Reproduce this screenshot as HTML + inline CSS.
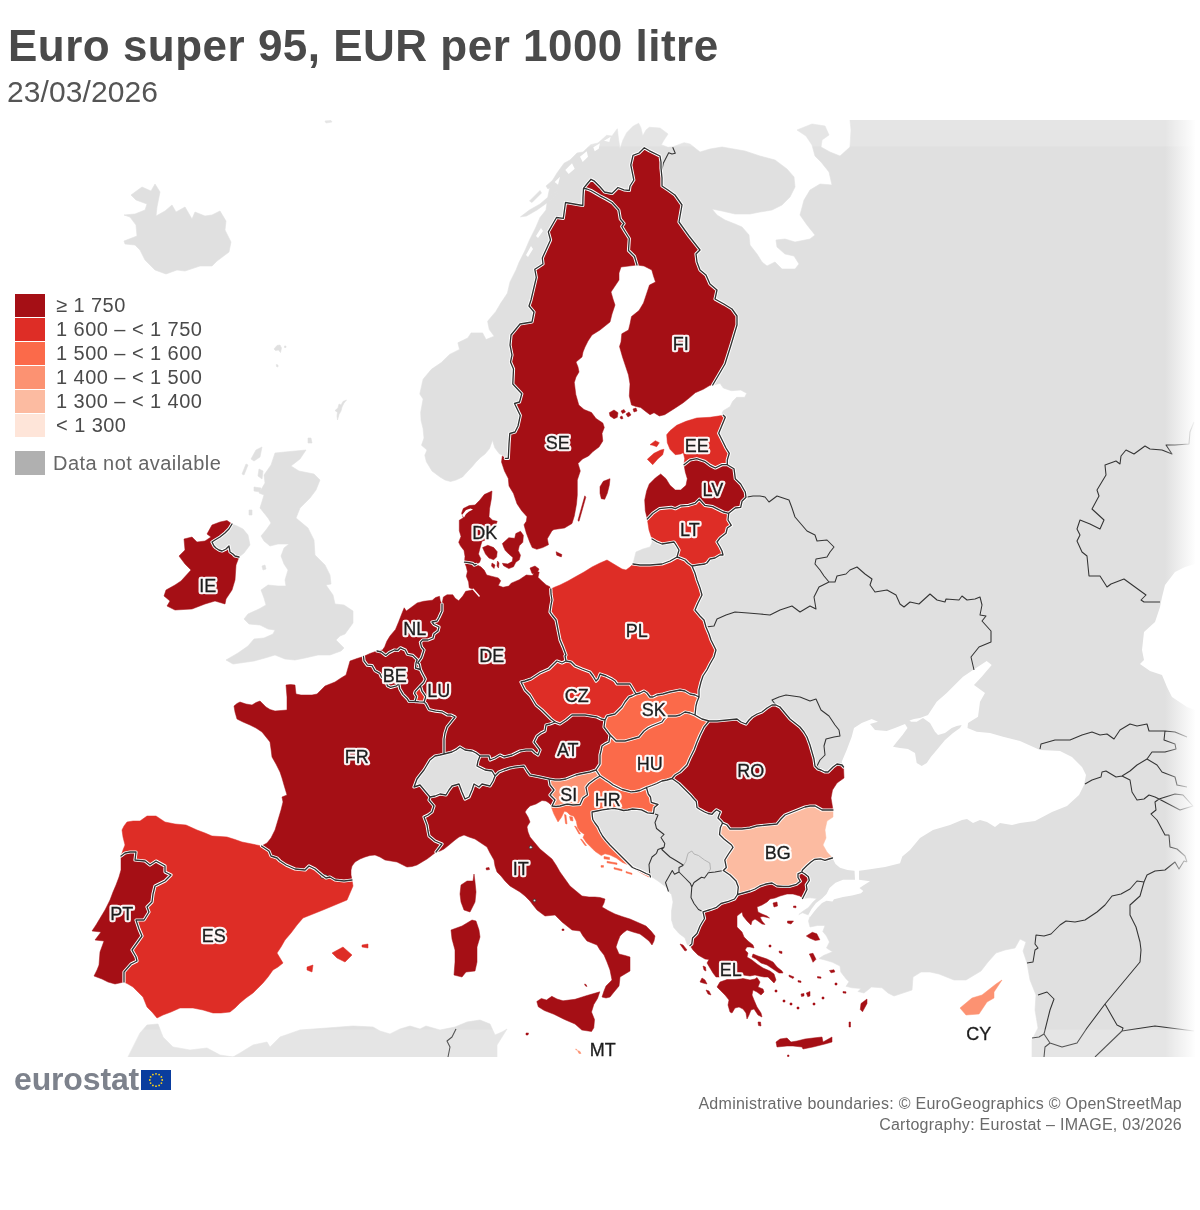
<!DOCTYPE html>
<html lang="en"><head><meta charset="utf-8"><title>Euro super 95, EUR per 1000 litre</title>
<style>
html,body{margin:0;padding:0;background:#fff}
body{width:1200px;height:1210px;position:relative;overflow:hidden;font-family:"Liberation Sans",Arial,sans-serif}
h1,.sub,.lt,.logo,.cr{opacity:.999;will-change:opacity}
h1{position:absolute;left:8px;top:22px;margin:0;font-size:44px;line-height:48px;font-weight:bold;color:#4a4a4a;letter-spacing:0.49px;white-space:nowrap}
.sub{position:absolute;left:7px;top:76px;font-size:30px;line-height:32px;color:#555;letter-spacing:0.08px;white-space:nowrap}
.sw{position:absolute;left:15px;width:30px;height:23px}
.lt{position:absolute;left:56px;font-size:20px;line-height:23px;color:#4a4a4a;letter-spacing:0.45px;white-space:nowrap}
.logo{position:absolute;left:14px;top:1062px;font-size:32px;line-height:34px;font-weight:bold;color:#7d828c;letter-spacing:-0.15px}
.flag{position:absolute;left:141px;top:1070px;width:30px;height:20px;background:#0a3d9e}
.cr{position:absolute;right:18px;font-size:16px;line-height:18px;color:#6a6a6a;letter-spacing:0.27px;white-space:nowrap;text-align:right}
</style></head><body>
<h1>Euro super 95, EUR per 1000 litre</h1>
<div class="sub">23/03/2026</div>
<svg width="1200" height="937" viewBox="0 120 1200 937" style="position:absolute;left:0;top:120px;display:block"><defs><linearGradient id="fr" x1="0" x2="1" y1="0" y2="0"><stop offset="0" stop-color="#fff" stop-opacity="0"/><stop offset="1" stop-color="#fff" stop-opacity="1"/></linearGradient><filter id="hb" x="-5%" y="-5%" width="110%" height="110%"><feGaussianBlur stdDeviation="0.45"/></filter><filter id="nop" x="-5%" y="-5%" width="110%" height="110%"><feOffset dx="0" dy="0"/></filter></defs><rect x="0" y="120" width="1200" height="937" fill="#fff"/><path fill="#e0e0e0" stroke="#e0e0e0" stroke-width="0.6" stroke-linejoin="round" d="M505.3 458.3L504.5 456L499.3 453.8L494.8 447.8L492.5 440.3L489.5 448.5L485 454L480.5 457.5L476 462L472.3 466.5L467 472L462.5 477L456 480L450.5 481.5L445 480L440 477L432 471L426.4 461.8L424.8 455.2L427 450L421.5 445.3L424 438L423.1 428.8L421 420L420.7 412.2L423.1 399L419.8 394L423.1 379.2L431.4 369.3L441.3 362.6L449.6 354.4L459.5 349.4L457.9 342.8L467.8 337.9L471.1 332.9L482.6 332.9L486 339.5L494.2 336.2L489.3 329.6L487.6 321.3L495.9 311.4L500.8 303.1L507.4 293.2L510 282L516 270L519 262.5L525 250.5L529.5 240L535.5 228L540 217.5L546 210L548 196L550.7 183.3L557 173L564 163.3L570 160L577 153L583 152L590.7 144.7L598 143L606.7 135.3L612 136L617.3 128.7L618.5 139L620 148.7L623 140L626.7 132.7L633.3 126L638.7 123.3L641 128L642.7 136L646 130L649.3 127.3L660 128L668 134L664 140L661.3 144.7L668 147.3L673.3 146.7L684 142.7L690 144L700 152L710 149L722 147L745 151L760 156L775 160L787 169L794 177L795 187L790 197L782 205L772 210L760 212L750 214L735 214L722 211L712 209L717 215L725 220L735 224L742 227L749 235L750 245L757 254L762 262L767 266L775 262L782 269L795 269L799 264L794 256L785 254L777 247L776 240L785 239L795 242L810 239L815 235L807 225L800 215L804 200L810 190L820 184L832 185L829 172L821 162L815 156L812 145L806 136L797 130L812 124L825 126L829 135L822 140L821 147L830 152L840 156L850 147L851 130L850 120L1200 120L1200 1057L1032 1057L1032 1040L1038 1028L1035 1010L1036 995L1030 980L1027 963L1023 951L1026 942L1020 939L1015 948L1005 950L996 953L988 962L981 971L966 980L954 980L939 974L930 972L921 972L913 977L912 990L903 993L894 996L888 993L882 987.8L871.5 987L864 993L858 991.5L861 988.5L852 987.8L846 986.3L849 981.8L846 978.8L840.8 972L840 966L832.5 962.3L825 960L819 958.5L823.5 955.5L832.5 951.8L826.5 948L829.5 942L826.5 936L822.8 931.5L825 925.5L817.5 925.5L810 927L808.5 921L810 916.5L808.5 915L802.5 912.8L798.8 914.5L802.5 911.5L808.5 907.5L813 902L816.8 898.5L810 897.8L802.5 898.5L790 880L760 850L740 790L690 745L665 705L650 640L645 580L633 564L634 560L636 552L643 549L650 547L652 543L652 539L665 530L700 525L712 490L712 440L723.3 415.3L722 413.3L723.3 410.7L730 406.7L732.7 401.3L736.7 397.3L744.7 397.3L746.7 393.3L740.7 390L731.3 390.7L723.3 388L720 383.3L714.7 384.7L712.7 385L700 370L670 300L640 235L600 215L565 280L545 380L520 440ZM690 945.5L687.3 944.8L685 938L679 933.5L673.8 927.5L671.5 920L671.5 911L673 902L671.5 894.5L668.5 891.5L667.8 888.5L664 885.5L658 881L653.5 878L650.5 877L649.8 875L646 873.5L643 872L640 870.5L636 869L632.5 867.5L629.5 864.5L626.5 861.5L623 858L619 854L614.5 849.5L610 845L606 840.5L602.5 836L600 831.5L598 827L595 823L592.8 819.5L592.3 816L592 812L597 811L602.5 809.8L608 809L613 808.3L618 809L623.5 810.5L628 810L632.5 809L637 809.3L641.5 809.8L647.5 812.8L653.5 813.5L654.3 807.5L658 804.5L651.3 802.3L650.5 797L648.3 794L646.5 787.5L652 785.5L657 783.5L662 781L667 780L672 778.5L679 783.5L682 786.5L685 789.5L688 792.5L691 795.5L693.5 798.5L696.3 801.5L697 807.5L700 809.5L704.5 812L708 813.5L712 814.3L714 812L716.5 809.8L720.3 812L719 815L718 818L721.8 821.8L722.5 823L720.3 827.8L719.5 834.5L724 839L731.5 845L733 847.3L728.5 854L724.8 860L726.3 867.5L723.3 870.5L730 875L736 881L738.3 887L737.5 894.5L734.5 899L728.5 901.3L721 903.5L716.5 907.3L710.5 909.5L703 911.8L704.5 918.5L702 922.5L700 926L697 933.5L692.5 938L691.8 944ZM480 756L476 753L472 751L465 750L460 747L456 750L452 752L448 753L444 754L440 755L435 756L430 760L427 765L424 770L420 775L417 779L414 787L417 786L420 785L425 791L430 797L435 796L440 794L446 795L449 790L452 786L459 784L462 792L465 799L469 797L472 790L474 784L479 787L482 784L490 786L493 781L495 776L492 771L485 770L481 768L477 766L478 761ZM275 453L290 451.5L306 450L300 459L291 466L299 471L314 474L320 480L316 490L310 498L305 503L300 508L296 518L308 528L314 540L315 555L325 565L330 575L331 584L326 585L333 595L335 604L344 605L353 611L353 623L345 634L340 636L336 640L344 648L341 651L330 655L318 655L305 658L295 660L285 659L275 655L265 658L254 661L240 663L233 664L226 660L238 653L248 646L254 639L264 638L273 634L275 630L268 629L260 625L249 624L244 619L248 614L259 609L266 605L264 598L261 590L268 585L278 586L286 586L285 580L288 570L284 564L281 556L284 548L289 544L278 544L270 546L264 541L261 536L266 530L271 523L268 518L264 513L260 508L264 495L259 493L265 483L264 475L271 465ZM232 524L229 529L225 533L220 537L215 540L212 542L214 546L216 548L219 550L222 551L226 549L229 546L229.5 549L230 552L233 554L235 556L239 557L244 553L250 545L248 535L243 529L237 526ZM131 195L142 187L151 191L155 184L160 192L157 207L156 216L165 211L172 205L176 212L185 207L192 219L195 212L205 216L212 215L220 211L226 221L225 230L231 242L229 252L217 261L212 266L200 266L185 271L177 270L166 274L155 270L145 260L140 250L135 245L125 244L124 241L137 236L136 225L130 217L124 215L135 214L145 210L147 204L136 200ZM256 450L262 447L260 457L254 461L251 459ZM246 464L248 465L244 475L242 474ZM259 469L263 471L262 479L258 476ZM254 487L261 488L260 492L254 491ZM249 510L252 510L252 515L249 515ZM308 438L311 438L312 443L308 443ZM335 410.5L338 408L339 404L341 405L343 401.5L346.5 400L344 403L342 407L341 411L339 414.5L337.5 420L337 416L337.5 412.5ZM262 566L265 565L266 569L263 570ZM325 121L331 120.5L332 122L326 123ZM274 349L277 345.5L280 345L281.5 348L280.5 352.5L278.5 350L275.5 350.5ZM284.5 346L286 346L286 347.5L284.5 347.5ZM276.3 364.5L278 365L278 367L276.5 366.5ZM128 1057L140 1033L147 1025L158 1024L163 1037L173 1047L190 1050L207 1048L220 1055L233 1057ZM233 1057L240 1053L253 1045L267 1042L270 1047L280 1037L300 1030L327 1028L353 1026L373 1027L380 1031L390 1034L400 1029L410 1026L420 1029L426 1026L440 1030L455 1027L467 1022L480 1020L490 1024L495 1035L502 1032L507 1029L502 1037L497 1045L497 1057ZM520.5 216.8L529.5 210L540 204L550.5 195L558 190.5L556.5 195L547.5 202.5L537 210L526.5 216ZM529.5 201L540 190.5L541.5 193L532 202.5ZM546 186L553 180L555 183L548 189Z"/><path fill="#fff" d="M843.5 767L841.7 761.7L846.7 750L851.7 736.7L854 728L861.7 723L871.7 719L878 721.7L870 724L875 730L886.7 731L895 728L905 724L908 721L914 719L920 718L928 715L936.7 701.7L946.7 693L956.7 683L963 676.7L973 670L986.7 661L991.7 665L981.7 676.7L974 685L985 693L980 701.7L978 716.7L968 723L967.5 728L976.7 731.7L990 733L1003 736.7L1020 741L1040 750L1060 751L1072 757L1082 767L1086 775L1084 785L1079 795L1067 806L1052 812L1035 821L1020 823L1012 825L1000 823L995 827L987 822L980 820L973 823L967 819L962 820L950 825L933 830L920 838L910 850L902.3 856.5L900 863.3L885 867L870 869.3L859.5 870.8L854.3 870.8L847.5 870L840 867.8L835.5 864L832.5 858L815 850L815 800ZM1200 560L1195 564L1185 567L1175 572L1165 585L1162 597L1160 607L1155 622L1144 632L1142 650L1144 660L1140 664L1150 671L1162 675L1167 687L1172 697L1187 707L1195 710L1200 712ZM854.5 870L859 870L859 879.8L870 881.3L864 885L859.5 888L863.3 891L861 893.3L852 895.5L843 897L834 899.3L832.5 901.5L826.5 900.8L822 903L817.5 907.5L813.8 912L810 917L808 915.5L811.5 909L816 903L822 898.5L826.5 894L829.5 888L835.5 882.8L843 879.8L855 879.8ZM554.7 182L560 176.7L558 184.7ZM565.3 170L572 163.3L574.7 168.7L568.7 174ZM580 156.7L586.7 151.3L588 156.7L582.7 162ZM593.3 147.3L600 143.3L598.7 148.7L594.7 151.3ZM604 140.7L610.7 136.7L609.3 142ZM536 236L541 228L543 231L538 238ZM526 255L531 246L533 249L528 257Z"/><path fill="#e0e0e0" d="M904 720L905 724L907.5 728L902.5 735L897.5 741L893 746.7L900 748L908 749L915 753L916.7 763L921.7 766L926.7 763L931 756.7L936.7 750L945 740L953 733L960 728L961.7 725L956.7 726L951.7 728L945 733L938 735L935 731.7L930 723L923 718L916.7 721.7L911 721.7L908 719Z"/><path fill="none" stroke="#a8a8a8" stroke-width="0.8" d="M683.5 865.3L685.8 861.5L688 853.3L691.8 851L694 854L698.5 855.5L704.5 860L709.8 863L710.5 869L708.3 872.8"/><path fill="none" stroke="#333" stroke-width="1.05" stroke-linejoin="round" d="M661 168L662 169.3L663.3 163.3L668.7 152.7L672 154L675.3 153.3L672.7 147.3M746 497.3L753 496L760 496L765 497L769 502L777 496L789 500L792 508L795 517L801 524L807 531L815 535L817 541L827 540L834 547L830 552L827 557L816 559L815 564L820 570L824 576L829 582M706 627L714 626L717 619L726 615L735 612L748 613L760 614L770 615L780 610L792 606L800 612L810 606L816 609L814 597L819 587L829 582M829 582L835 582L837 576L846 574L850 570L857 567L865 574L872 579L870 585L875 592L887 590L896 595L900 604L904 607L910 602L919 604L930 594L937 600L945 602L946 599L959 600L962 596L967 600L975 599L980 597L982 605L980 615L986 616L982 621L991 631L991 642L979 647L971 657L974 670M780 707L775 704L772 700L779 697L786 695L800 697L810 701L816 699L821 710L829 716L835 725L839 730L840 736L834 737L826 739L824 746L825 755L820 760L817 766L821 770M1194 422L1190 432L1189 444L1175 445L1166 445L1172 454L1162 450L1150 449L1145 446L1134 454L1126 450L1121 456L1120 464L1116 461L1105 465L1106 475L1097 490L1099 496L1092 509L1104 520L1100 529L1090 524L1080 520L1077 529L1080 535L1077 541L1082 552L1087 556L1089 576L1100 576L1107 587L1111 584L1124 579L1146 595L1141 600L1144 602L1160 602M1040 749L1041 744L1055 740L1070 740L1082 735L1092 732L1100 735L1107 734L1114 739L1120 730L1130 724L1137 726L1147 724L1149 731L1165 731L1175 732L1187 737M1165 731L1164 740L1175 744L1176 749L1165 752L1152 752L1147 759M1147 759L1137 765L1130 771L1122 776M1122 776L1116 777L1106 771L1102 772L1101 777L1092 780L1085 784M1122 776L1130 780L1132 792L1137 800L1144 799L1149 795L1155 797L1159 799M1147 759L1157 765L1162 772L1175 777L1177 785L1187 787M1159 799L1175 794L1183 795L1193 806L1180 810L1159 799M1159 799L1155 802L1156 810L1151 814L1157 820L1165 835L1169 835L1170 847L1177 849L1185 856L1187 862M1187 862L1184 861L1179 869L1175 862L1170 866L1165 870L1155 871L1147 875L1144 882M1144 882L1137 881L1130 889L1121 894L1112 896L1105 905L1097 912L1085 920L1075 922L1066 921L1060 925L1051 934L1044 936L1036 935L1035 944L1038 948L1035 950L1033 962L1027 963M1144 882L1140 896L1130 905L1130 915L1136 927L1140 942L1141 950L1140 962L1105 1004M1105 1004L1087 1028L1077 1043L1062 1047L1050 1043M1050 1043L1044 1034L1050 1010L1054 999L1047 992L1038 995M1032 1038L1039 1037L1044 1034M1050 1043L1045 1047L1044 1057M1105 1004L1117 1025L1123 1028L1122 1031M1122 1031L1095 1057M1122 1031L1155 1026L1194 1031M456 1029L452 1037L447 1041L450 1047L448 1057M653.5 813.5L658 815L655 822.5L656.5 828.5L664 834.5L661 837.5L664.8 843.5L664 847.3M664 847.3L658 849.5L656.5 853.3L652 857L649 864.5L649.8 875M664 847.3L661.8 849.5L670 857L677.5 861.5L683.5 865.3M683.5 865.3L679 867.5L679 872L674.5 874.3L672.3 870.5L665.5 882.5L668.5 891.5M708.3 872.8L704.5 878L701.5 877.3L694 882.5L691.8 887M679 872L685 878L690.3 883.3L691.8 887M708.3 872.8L715 872L723.3 870.5M703 911.8L698.5 909.5L694 903.5L691 897.5L691.8 887"/><rect x="0" y="120" width="1200" height="26.5" fill="#fff" fill-opacity="0.16"/><rect x="0" y="1029.5" width="1200" height="27.5" fill="#fff" fill-opacity="0.16"/><path fill="#a50f15" stroke="#a50f15" stroke-width="0.5" stroke-linejoin="round" d="M583.5 188.3L587 184L591 179.3L594 180.8L600 186.8L604.5 192L612 193.5L618 187.5L624 189.8L629.3 190.5L630 186L633.8 180L632.3 172.5L630.8 165L633 155.3L639 153L644.3 147.8L649.5 150.8L660 156L661 162L661 168L662 178L662 186L668 190L675 195L682 205L679 222L689 236L700 250L696 254L697 262L700 270L706 275L710 284L717 290L715 299L724 304L732 309L737 316L737 325L731 345L725 364L718 376L712.7 385L710 385.3L703.3 389.3L695.3 392.7L690 397.3L683.3 402.7L675.3 408L664.7 414.7L659.3 416L654 412.7L650 414.7L644.7 410.7L640.7 407.5L636 406.5L631.5 405L629.3 396L630 384L628.5 375L625.5 366L622.5 357L619.5 346.5L621 342L621.8 333.8L628.5 330L630 324L631.5 316.5L639 310.5L643.5 303L646.5 294L649.5 285L655.5 282L653.5 276L651.8 270L644 266L637 265L634.5 256.5L628.5 250.5L629.3 238.5L625.5 232.5L621.8 226.5L624 223.5L620.3 219L618.8 210L612 202.5L606 199L600 195.8L591 190.5L587 189ZM609.3 412.7L614 410L618 412.7L617.3 417.3L614 418.7L610 416ZM621 411L624 409.5L625.5 412L622.5 413.5ZM626 414L629 412L631 415L628 417ZM633 409L636 408L637 411L634 412ZM620 417L622 416L623 418.5L621 419Z"/><path fill="#a50f15" stroke="#a50f15" stroke-width="0.5" stroke-linejoin="round" d="M583.5 188.3L587 189L591 190.5L600 195.8L606 199L612 202.5L618.8 210L620.3 219L624 223.5L621.8 226.5L625.5 232.5L629.3 238.5L628.5 250.5L634.5 256.5L637 265L629 266L621 267L619 273L619 280L615 286L611 292L613 299L615 305L612 314L610 322L605 326L600 330L592 335L588 341L585 347L583 352L582 357L576 362L578 367L579 372L576 377L574.3 382.5L575.8 394.5L578.8 405L584 409.5L591.5 412.5L596 418.5L602.8 423L604.3 427.5L602 433.5L602.8 441L599 447L593 451.5L588.5 456L582.5 459L578 463.5L580.3 471L577.3 480L577.3 495L576.5 504L574.3 516L572 523.5L564.5 528L554 529.5L552 530.7L547.3 538.8L548.5 544.7L542.7 547.6L536.8 549.3L532.2 547.6L529.8 542.3L526.3 533L524 524.8L526.3 521.3L527 516.7L521.7 510.8L517 503.8L513.5 493.5L509 486L508.3 478.5L504.5 471L501.5 462L502.3 456L505.3 458.3L508.3 458.3L509 444L509.8 433.5L515 432L518 426L520.3 415.5L514.5 403.5L519.5 402L521.8 393.8L512.8 384L513.5 369L510.5 362L512 355L510 345L511 335L520 324L532 322L534 312L529 306L531 300L536.3 277.5L534.8 269.3L543 264L542.3 258L550.5 240L548.3 231.8L556.5 217.5L563.3 218.3L565.5 202.5L582.8 205.5L583 197ZM600 486.7L603.3 481.3L610 478.7L609.3 485.3L607.3 493.3L604.7 499.3L601.3 498.7L600 493.3ZM584.8 495.8L585.8 497.3L579 521.3L577.9 520.5Z"/><path fill="#de2d26" stroke="#de2d26" stroke-width="0.5" stroke-linejoin="round" d="M684 464.7L684.7 458.7L683.3 452.7L680.7 454L675.3 454.7L670 449.3L667.3 442.7L666.7 434.7L670 430.7L676.7 425.3L686 421.3L696.7 418L710 417.3L723.3 415.3L725.3 417.3L722 425.3L718.7 433.3L722.7 441.3L726 448L729.3 453.3L727.3 460L727.3 464.7L722 464.7L715.3 468L710 465.3L704.7 461.3L696.7 458.7L690 460ZM647.3 459.3L654 453.3L660.7 450L664 449.3L662.7 454.7L658 458.7L652.7 464.7ZM650 444.7L655.3 440.7L659.3 442.7L656.7 446.7L652.7 445.3Z"/><path fill="#a50f15" stroke="#a50f15" stroke-width="0.5" stroke-linejoin="round" d="M684 464.7L690 460L696.7 458.7L704.7 461.3L710 465.3L715.3 468L722 464.7L727.3 464.7L734 468.7L735.3 478.7L740.7 484L745.3 492L746 497.3L742 501.3L740.7 507.3L735.3 508L728.7 513.3L723.3 512L712.7 506.7L704.7 505.3L699.3 499.3L695.3 503.3L688.7 505.3L680.7 506L675.3 508.7L671.3 507.3L659.3 508.7L652.7 513.3L647.3 519L645.3 510.7L644.7 500L646.7 490.7L649.3 484L655.3 478L660.7 474L666 478.7L670 485.3L675.3 490L680.7 490L686 485.3L687.3 478.7L685.3 472Z"/><path fill="#de2d26" stroke="#de2d26" stroke-width="0.5" stroke-linejoin="round" d="M647.3 519L652.7 513.3L659.3 508.7L671.3 507.3L675.3 508.7L680.7 506L688.7 505.3L695.3 503.3L699.3 499.3L704.7 505.3L712.7 506.7L723.3 512L728.7 513.3L728 520L731.3 525.3L727.3 528L726 533.3L720 538L717 542L720 547L722 551L723 555L720 555L715 558L710 559L707 563L705 564L698 565L692 566L688 563L685 560L680 558L677 557L679 550L676 545L674 542L668 543L662 544L657 542L652 539L649 530Z"/><path fill="#de2d26" stroke="#de2d26" stroke-width="0.5" stroke-linejoin="round" d="M550.8 589L555 587L560 585L568 581L575 577L584 572L592 567L600 563L607 560L612 563L617 566L622 569L626 570L630 567L633 564L640 565L650 565L662 564L670 561L677 557L680 558L685 560L688 563L692 566L695 573L697 580L700 588L702 595L698 603L695 610L700 616L704 620L706 627L709 634L711 640L716 650L714 657L710 664L707 670L703 676L701 682L699 690L699 697L695 695L690 694L685 691L680 690L675 691L670 692L663 694L657 695L653 697L650 697L647 693L644 691L640 693L636 694L633 689L630 684L623 684L617 684L615 681L612 679L606 676L600 674L598 679L596 681L593 676L590 672L582 669L575 666L571 662L566 661L565 656L566 655L563 647L560 640L558 630L556 620L552 615L550 612L551 605L552 600L551 594Z"/><path fill="#a50f15" stroke="#a50f15" stroke-width="0.5" stroke-linejoin="round" d="M442 604L443.4 597L447 594.8L452.8 594.8L455.2 598.3L458.7 600.7L462.8 596L465.7 591.3L470 590.5L473.8 589.6L469.2 587.8L468.6 582L466.3 576.2L467.4 571.5L466.3 566.8L464.5 562.2L468 562.5L472.7 563.3L474.4 565.1L476.2 564.5L480.8 566.8L484.3 570.3L486.7 575L491.3 576.2L498.3 577.9L500.7 580.8L498.3 585.5L503 587.3L508.8 586.1L511.2 583.2L519.3 579.7L526.3 575L532.2 575.6L535.7 571.5L539.2 572.1L538 577.3L541.5 580.8L546.2 584.9L549.7 586.7L550.8 589L551 594L552 600L551 605L550 612L552 615L556 620L558 630L560 640L563 647L566 655L565 656L566 661L562 663L557 661L553 665L549 669L540 673L531 679L525 681L521 682L523 686L525 690L530 695L533 700L536 705L542 710L547 715L551 719L555 722L550 724L546 725L545 731L541 733L537 736L534 742L537 746L540 750L538 755L535 753L532 750L526 750L520 751L516 753L512 755L508 756L504 757L500 755L495 758L490 760L489 756L484 756L480 756L476 753L472 751L465 750L460 747L456 750L452 752L448 753L444 754L444 746L444 739L445 733L447 727L451 722L455 717L451 715L447.5 715L442 711.8L435.6 711.2L429 709.6L425.8 703.6L424 702.2L425.8 696.6L422 691.2L420.4 685.8L423.7 682.5L425.3 679L422.6 674L420.4 669.5L419.3 664L417.7 663L421.5 657.6L424 650L421.5 647L420.4 642.4L422.6 640L428 640L433 638L434 634L438 631L439 627L434 624.5L432 622L437 621L439 617.5L442 611ZM530 568L535 566L539 569L537 573L532 573.5Z"/><path fill="#a50f15" stroke="#a50f15" stroke-width="0.5" stroke-linejoin="round" d="M464.5 562.2L465 556.3L464 550.5L460.4 545.8L458.7 542.3L461 536.5L459.3 530.7L459.3 520.2L463.3 517.8L461.6 513.2L463.3 508.5L469.2 505.6L475 505L479.7 500.3L484.3 494.5L492 491L491.3 499.2L489.6 508.5L489 516.7L492.5 520.2L497.2 521.3L496 524.8L491 526L489 531L487 536L485.5 540L482 541.2L480.3 547L478.5 554L480.8 558.7L479.7 562.2L476.2 564.5L474.4 565.1L472.7 563.3L468 562.5ZM482.6 547.6L487.8 545.3L493.7 547.6L497.2 551.7L496.6 556.9L493.7 559.8L489 558.1L485.5 554ZM502.4 543.5L508.8 537.7L514.7 538.3L515.8 533.6L520.5 531.3L523.4 535.3L522.8 542.3L519.3 545.8L518.2 550.5L520.5 555.2L519.3 559.8L515.8 562.2L513.5 566.8L508.8 568.6L503.6 565.7L502.4 563.3L507.7 563.9L512.3 561.6L512.9 557.5L508.8 554L505.3 550.5L503.6 547ZM556.1 551.7L561.9 554.6L561.3 556.9L556.7 555.2ZM492 563L495 565L494 568.5L491.5 566ZM497.5 561L499 563L498.5 568L497 566Z"/><path fill="#a50f15" stroke="#a50f15" stroke-width="0.5" stroke-linejoin="round" d="M377 651L382.5 650L384.7 646.8L386.8 641.3L390 636L395.5 629.4L398.7 621.8L402 613.2L404.2 607.8L406.3 611L410.7 607.8L417.2 602.9L423.7 601.3L432.3 600.2L435.6 597.5L439.5 596.3L440.3 601L442 604L442 611L439 617.5L437 621L432 622L434 624.5L439 627L438 631L434 634L433 638L428 640L422.6 640L420.4 642.4L421.5 647L424 650L421.5 657.6L417.7 663L419.3 664L420.4 669.5L415.5 668L416 663L417.2 659.7L412.8 655.4L407.4 654.3L405.3 650L400.4 647.8L397.7 650.5L394.4 650L389 652.7L385.8 655.4L381.4 652Z"/><path fill="#a50f15" stroke="#a50f15" stroke-width="0.5" stroke-linejoin="round" d="M363.5 656.5L370 653.5L377 651L381.4 652L385.8 655.4L389 652.7L394.4 650L397.7 650.5L400.4 647.8L405.3 650L407.4 654.3L412.8 655.4L417.2 659.7L416 663L415.5 668L420.4 669.5L422.6 674L425.3 679L423.7 682.5L420.4 685.8L415.2 691.5L414.6 693.4L416.6 696.6L415 701.5L409 701.5L407.4 698.8L403 694.4L399.8 689L398.7 683.6L396.6 685.8L390.6 687.4L387.4 685.8L385.8 680.3L381.4 677L379.8 673.3L374.9 670.6L372.2 665.7L367.3 665.2L364 660.8Z"/><path fill="#de2d26" stroke="#de2d26" stroke-width="0.5" stroke-linejoin="round" d="M420.4 685.8L415.2 691.5L414.6 693.4L416.6 696.6L415 701.5L419 701.9L424 702.2L425.8 696.6L422 691.2Z"/><path fill="#a50f15" stroke="#a50f15" stroke-width="0.5" stroke-linejoin="round" d="M363.5 656.5L364 660.8L367.3 665.2L372.2 665.7L374.9 670.6L379.8 673.3L381.4 677L385.8 680.3L387.4 685.8L390.6 687.4L396.6 685.8L398.7 683.6L399.8 689L403 694.4L407.4 698.8L409 701.5L415 701.5L419 701.9L424 702.2L425.8 703.6L429 709.6L435.6 711.2L442 711.8L447.5 715L451 715L455 717L451 722L447 727L445 733L444 739L444 746L444 754L440 755L435 756L430 760L427 765L424 770L420 775L417 779L414 787L417 786L420 785L425 791L430 797L429 800L434 806L432 812L428 815L424 817L427 825L428 831L429 836L435 841L442 844L439 848L436 852L431 856L427 859L422 862L417 865L412 866.5L407 867L402 864.5L397 862L391 861L385 860L380 857L375 855L370 855.5L365 857L360 859L355 862L352 866L351 870L351 875L352 880L344 881L335 880L330 877L326 878L322 875L315 869L309 866L305 870L295 869L286 865L280 861L277 858L271 856L269 851L261.5 846L267 843L271 838L275 830L278 820L281 810L283 802L282 797L287 795L285.5 790L284 785L282 778L280 772L276 764L272 757L271 749L270 742L266 737L262 732L256 728L250 725L243 722L237 719L235 712L234 706L237 703.5L240 702L246 704L252 705L256 702.5L260 701L263 704L266 707L270 709.5L275 711L281 710.5L287 710L287 697L286 685L290.5 684.5L295 685L295.5 690L296 694L301 695L307 695L312 695L317 694L321 690L325 686L330 684L335 682L341 678L346 675L348 668L350 661L357 658.5ZM474 874L475 882L476 892L475 902L470 912L464 910L461 902L460 894L461 885L467 881L473 881Z"/><path fill="#de2d26" stroke="#de2d26" stroke-width="0.5" stroke-linejoin="round" d="M261.5 846L269 851L271 856L277 858L280 861L286 865L295 869L305 870L309 866L315 869L322 875L326 878L330 877L335 880L344 881L352 880L353 886L350 893L347 900L335 905L323 910L313 914L303 918L297 925L291 933L285 940L281 947L277 953L280 958L283 963L278 967L273 970L268 977L263 983L258 988L253 993L246 998L240 1003L235 1008L230 1012L221 1013L213 1013L203 1010L193 1008L186 1008L180 1008L171 1012L163 1015L157 1018L152 1012L147 1007L145 1002L143 997L138 992L133 987L128 984L124 982L124 972L131 964L137 961L136 957L132 950L137 943L142 936L139 929L136 920L144 920L149 912L147 907L152 902L153 894L155 886L165 881L171 875L165 872L165 866L156 861L150 865L145 861L135 860L136 852L130 852L125 853L121 856L123 850L125 845L123 837L122 830L124 826L127 822L133 821L140 821L147 816L156 816L165 822L175 824L186 825L197 830L205 833L212 836L220 836.5L227 837L235 839.5L242 842L252 844ZM332 953L343 947L352 955L345 962L337 958ZM362 945L368 944L368 948L362 947ZM307 967L313 965L312 972L307 970Z"/><path fill="#a50f15" stroke="#a50f15" stroke-width="0.5" stroke-linejoin="round" d="M121 856L125 853L130 852L136 852L135 860L145 861L150 865L156 861L165 866L165 872L171 875L165 881L155 886L153 894L152 902L147 907L149 912L144 920L136 920L139 929L142 936L137 943L132 950L136 957L137 961L131 964L124 972L124 982L115 984L108 982L102 979L94 976L97 970L99 965L100 952L104 941L95 940L101 932L92 931L96 925L99 920L105 910L110 900L113 892L116 885L119 877L121 870Z"/><path fill="#a50f15" stroke="#a50f15" stroke-width="0.5" stroke-linejoin="round" d="M436 852L439 848L442 844L435 841L429 836L428 831L427 825L424 817L428 815L432 812L434 806L429 800L430 797L435 796L440 794L446 795L449 790L452 786L459 784L462 792L465 799L469 797L472 790L474 784L479 787L482 784L490 786L493 781L495 776L499 772L504 770L510 768L515 767L524 766L527 771L530 775L540 777L549 779L550 785L554 790L550 795L555 800L552 806L549 803L546 801L542 800.5L536 804L530 806L527 809L525 812L528 817L530 822L528 825L527 827L528 832L530 837L535 843L540 849L546 854L552 859L556 865L560 872L565 879L570 886L576 891L582 896L589 897L595 897L600 897.5L605 899L604 903L602 907L608 910.5L615 914L622 916.5L630 919L638 922.5L646 926L651 931L655 936L654 941L652 945L649 941L644 937L640 934L633 932L627 930L623 933L620 936L618 941L616 947L619 954L625 955.5L630 957L630 964L630 971L625 974L620 977L619.5 982L619 986L614 992L610 997L606 998L602 997L604 991L606 986L609 983L612 980L611 975L610 970L607 962L604 955L600 950L597 945L592 943L587 941L583 936L580 931L576 930.5L572 930L567 926L562 922L558 918L555 915L550 915.5L545 916L541 913L537 910L533 905L530 901L525 896L520 892L515 889L510 886L505 881L501 876L497 872L495 866L494 860L490 853L487 847L481 843L475 839L469 837L464 835L459 837L455 840L449 845L444 849L440 851ZM536.8 1001.5L541.3 998.5L546.5 1000L551.8 996.3L557 999L563 1000.8L575 999.3L587 995.5L599.8 991.8L597.5 998.5L593.8 1004.5L591.5 1012L594.5 1019.5L593.8 1027.8L591.5 1031.5L581.8 1030L575 1024L564.5 1019.5L554 1014.3L544.3 1010.5L538.3 1006.8ZM584.5 984L586 984.5L587 986.5L585.5 986ZM562 929L564 929L564 930.5L562 930.5ZM451 930L462 926L472 920L476 921L479 930L480 937L477 947L477 962L475 971L466 972L462 977L454 975L455 962L455 950L452 939ZM486 868L489 867.5L489.5 869.5L486.5 870ZM526 1033L528.5 1033L528 1035L526 1035Z"/><path fill="#fc9272" stroke="#fc9272" stroke-width="0.5" stroke-linejoin="round" d="M549 779L555 780L560 780L566 779L571 777L576 775L580 774L585 773L590 772L596 770L598 773L600 776L595 779L589 783.5L586 787.3L587.5 794.8L583 798L580 804.5L573 805L567 804L560 806L556 806.5L552 806L555 800L550 795L554 790L550 785Z"/><path fill="#a50f15" stroke="#a50f15" stroke-width="0.5" stroke-linejoin="round" d="M480 756L484 756L489 756L490 760L495 758L500 755L504 757L508 756L512 755L516 753L520 751L526 750L532 750L535 753L538 755L540 750L537 746L534 742L537 736L541 733L545 731L546 725L550 724L555 722L560 724L566 720L572 715L578 715L585 715L591 716L597 717L601 719L605 720L604 727L607 731L610 735L609 742L605 744L602 746L601 751L600 755L600 764L598 767L596 770L590 772L585 773L580 774L576 775L571 777L566 779L560 780L555 780L549 779L540 777L530 775L527 771L524 766L515 767L510 768L504 770L499 772L495 776L492 771L485 770L481 768L477 766L478 761Z"/><path fill="#de2d26" stroke="#de2d26" stroke-width="0.5" stroke-linejoin="round" d="M566 661L571 662L575 666L582 669L590 672L593 676L596 681L598 679L600 674L606 676L612 679L615 681L617 684L623 684L630 684L633 689L636 694L632 696L629 697L625 702L622 707L618 711L615 714L607 716L605 720L601 719L597 717L591 716L585 715L578 715L572 715L566 720L560 724L555 722L551 719L547 715L542 710L536 705L533 700L530 695L525 690L523 686L521 682L525 681L531 679L540 673L549 669L553 665L557 661L562 663Z"/><path fill="#fb6a4a" stroke="#fb6a4a" stroke-width="0.5" stroke-linejoin="round" d="M636 694L640 693L644 691L647 693L650 697L653 697L657 695L663 694L670 692L675 691L680 690L685 691L690 694L695 695L699 697L697 702L696 706L695 715L690 713L685 712L680 715L676 716L667 716L664 719L662 722L657 724L652 726L648 728L644 731L639 737L632 739L625 741L616 741L613 738L610 735L607 731L604 727L605 720L607 716L615 714L618 711L622 707L625 702L629 697L632 696Z"/><path fill="#fb6a4a" stroke="#fb6a4a" stroke-width="0.5" stroke-linejoin="round" d="M610 735L613 738L616 741L625 741L632 739L639 737L644 731L648 728L652 726L657 724L662 722L664 719L667 716L676 716L680 715L685 712L690 713L695 715L702 719L709 721L704 727L700 735L697 742L694 750L690 758L687 765L680 772L675 775L672 778.5L667 780L662 781L657 783.5L652 785.5L646.5 787.5L640 790.5L635 791.5L631 791.8L626 790.5L622 789.5L617 787L613 785L609 782L605.5 779.8L600 776L598 773L596 770L598 767L600 764L600 755L601 751L602 746L605 744L609 742Z"/><path fill="#fb6a4a" stroke="#fb6a4a" stroke-width="0.5" stroke-linejoin="round" d="M552 806L556 806.5L560 806L567 804L573 805L580 804.5L583 798L587.5 794.8L586 787.3L589 783.5L595 779L600 776L605.5 779.8L609 782L613 785L617 787L622 789.5L626 790.5L631 791.8L635 791.5L640 790.5L646.5 787.5L648.3 794L650.5 797L651.3 802.3L658 804.5L654.3 807.5L653.5 813.5L647.5 812.8L641.5 809.8L637 809.3L632.5 809L628 810L623.5 810.5L618 809L613 808.3L608 809L602.5 809.8L597 811L592 812L592.3 816L592.8 819.5L595 823L598 827L600 831.5L602.5 836L606 840.5L610 845L614.5 849.5L619 854L623 858L626.5 861.5L629.5 864.5L632.5 867.5L636 869L640 870.5L643 872L646 873.5L649.8 875L650.5 877L648.8 876.9L642.5 873.8L636.3 870L631.3 867.5L628.8 865L622.5 862.5L616.3 858L610 855L605 853.8L601.3 855.6L595 851.3L590 846.3L586.3 842.5L583 837.5L584.4 834.4L580 831.3L577.5 827.5L576.3 821.3L573.8 816.3L570 815L567 812L564.4 811.3L561.3 817.5L558 821.9L553.8 813.8L551.3 806.9ZM564.5 814.5L566 815L567 824L565.5 823.5ZM569.5 816.5L572.5 817L573 821L570.5 820.5ZM574.5 826L576 826.5L580.5 834L579 834ZM580.5 839L582 839.5L586.5 845.5L585 845.5ZM604 856.5L609.5 857.5L609.5 859.5L604 858.8ZM607 861.3L617 863L617 864.5L607 862.8ZM601 865.5L603.5 865.5L603.5 867.2L601 867.2ZM614 867.5L622 869.5L622 871L614 869ZM626 871.5L632 873.3L632 874.5L626 872.8Z"/><path fill="#a50f15" stroke="#a50f15" stroke-width="0.5" stroke-linejoin="round" d="M709 721L717 721L727 720L737 719L741 722L746 724L749 720L752 717L757 714L762 712L767 708L772 705L776 705L780 707L785 713L790 719L795 723L800 727L804 732L807 737L810 745L812 752L814 759L815 766L818 769L821 770L825 772L828 772L833 767L837 764L842 765L843.5 767L844 778L837 783L832.5 790L831 798L833 810L828 810L822 810L815 806L810 806L805 807L800 809L795 811L790 813L785 815L781 819L777 824L767 825L757 826L750 828L742 829L736 829L730 829L727 825L722.5 823L721.8 821.8L718 818L719 815L720.3 812L716.5 809.8L714 812L712 814.3L708 813.5L704.5 812L700 809.5L697 807.5L696.3 801.5L693.5 798.5L691 795.5L688 792.5L685 789.5L682 786.5L679 783.5L672 778.5L675 775L680 772L687 765L690 758L694 750L697 742L700 735L704 727Z"/><path fill="#fcbba1" stroke="#fcbba1" stroke-width="0.5" stroke-linejoin="round" d="M722.5 823L727 825L730 829L736 829L742 829L750 828L757 826L767 825L777 824L781 819L785 815L790 813L795 811L800 809L805 807L810 806L815 806L822 810L828 810L833 810L833 817L827 821L825 830L826 838L823 845L827 852L832.5 858L829 859L825 860.3L820.5 858.8L814.5 859.5L811 862L807 865.5L802.5 870L801.8 872L798 873.8L798 877.5L800.3 881.3L796.5 884.3L789 886.5L783 886.5L777 886L772 883L766 884L760 886L755 889L750 891L743 893L737.5 894.5L738.3 887L736 881L730 875L723.3 870.5L726.3 867.5L724.8 860L728.5 854L733 847.3L731.5 845L724 839L719.5 834.5L720.3 827.8Z"/><path fill="#a50f15" stroke="#a50f15" stroke-width="0.5" stroke-linejoin="round" d="M690 945.5L691.8 944L692.5 938L697 933.5L700 926L702 922.5L704.5 918.5L703 911.8L710.5 909.5L716.5 907.3L721 903.5L728.5 901.3L734.5 899L737.5 894.5L743 893L750 891L755 889L760 886L766 884L772 883L777 886L783 886.5L789 886.5L796.5 884.3L800.3 881.3L798 877.5L798 873.8L801.8 872L804.8 873.8L808.5 876.8L809.3 880.5L806.3 885L807 889.5L804.8 894L802.5 898.5L800 896L793 894L787 894L780 896L775 898L770 899L767 902L762 905L757 907L758 912L762 914L767 916L769.5 918L763 916.5L760 917L762 921L765 924.5L762 924L758 921L755 919L752 921L751 925L747 921L743 916L742 912L737 916L737 921L737 927L742 932L744 937L748 941L753 945L754 948L750 947L747 947L745 950L748 953L747 957L752 960L757 964L763 968L770 971L774 974L776 980L774 983L771 980L768 977L764 977L759 976L755 975L750 976L743 975L735 977L723 977L716 977L713 973L710 968L707 963L709 959.5L705 959L698 955L693 950ZM757 977.5L760 982L758 987L763 989L764 992L761 995L757 992L753 990L752 995L754 1000L757 1007L761 1013L762 1017L758 1015L754 1009L751 1010L749 1015L747 1019L746 1013L743 1009L739 1007L735 1008L732 1013L730 1012L728 1005L729 1000L725 995L720 990L717 987L720 982L727 979.5L735 979.5L743 978.5L750 980L755 979ZM753 954L758 956L767 959L773 962L777 967L782 971L783 973L779 973L773 969L767 965L761 963L756 959L752 957ZM776 1042L780 1039L787 1038L791 1042L797 1041L805 1039L813 1038L822 1037L823 1042L832 1037L832 1042L825 1044L813 1047L803 1049L802 1047L793 1046L787 1046L777 1047ZM680 944L683 945L687 950L685 951L682 947ZM702 978L705 980L707 984L703 983L700 982ZM703 966L705.5 967L706 971L704 970ZM706 990L709 991L711 995L708 994ZM773 903L777 902L777.5 906L774 907ZM793.5 906L796 906L796 907.8L793.5 907.5ZM787.5 921L793.5 921L791 924L787.5 923ZM806.3 936L812.3 932.3L816.8 933.8L819.8 939.8L815.3 940.5L810 938.3ZM809.3 954L813 953.3L816 959.3L813 962.3L810.8 957ZM829.5 970.5L834 969.8L834.8 972L831 972.8ZM817.5 976.5L821 977L821 978.3L817.5 978ZM779 951L782 951.5L782 953.5L779.5 953ZM789 975L794 977L793 978.5L789 976.5ZM798 980.5L801 981L801 982.5L798 982ZM806.3 993L810 991.5L810 996L807.8 996.8ZM801 994L804 993.5L804 996L801.5 996.5ZM843 991.5L846 991.8L846 993.2L843 993ZM861 1003.5L867 999L867 1003.5L862.5 1011.8L860.3 1009.5ZM849 1022L850.5 1022L850.5 1027L849 1027ZM758 1022L760.5 1022L761 1026L758.5 1025.5ZM787.5 1055L789 1055L789 1056.5L787.5 1056.5ZM783 1000L785 1000L785 1002L783 1002ZM790 1003L792 1003L792 1005L790 1005ZM797 1007L799 1007L799 1009L797 1009ZM813 1003L815 1003L815 1005L813 1005ZM822 997L824 997L824 999L822 999ZM835 983L837 983L837 985L835 985ZM775 990L777 990L777 992L775 992ZM769 945L771 945L771 947L769 947Z"/><path fill="#a50f15" stroke="#a50f15" stroke-width="0.5" stroke-linejoin="round" d="M232 524L229 529L225 533L220 537L215 540L212 542L214 546L216 548L219 550L222 551L226 549L229 546L229.5 549L230 552L233 554L235 556L239 557L236 565L235 580L232 590L226 599L225 604L215 601L205 604L192 609L175 610L167 606L170 601L164 596L166 590L175 585L181 581L191 570L185 564L179 556L185 550L184 539L192 537L197 542L205 541L211 537L207 534L212 525L220 522L227 520.5Z"/><path fill="#fc9272" stroke="#fc9272" stroke-width="0.5" stroke-linejoin="round" d="M960 1008L972 998L982 995L996 984L1002 980L994 992L994 998L987 1002L979 1014L966 1015Z"/><path fill="#fc9272" stroke="#fc9272" stroke-width="0.5" stroke-linejoin="round" d="M577.5 1050.5L580 1051.5L581 1053.5L579 1053.5ZM575.5 1049L577 1049.5L576.5 1050.3Z"/><path fill="#e0e0e0" stroke="#303030" stroke-width="0.8" d="M320 874L327 875L328 878.3L321 878Z"/><circle cx="530.8" cy="847.3" r="1.5" fill="#e0e0e0" stroke="#303030" stroke-width="0.8"/><circle cx="534.5" cy="900.5" r="1.3" fill="#e0e0e0" stroke="#303030" stroke-width="0.8"/><path fill="#fff" d="M462,515L466,510L470.5,508.5L473,509.5L469,511.5L466,514L464,517.5Z M472,589L473.5,588.5L480,596L479,597Z"/><path fill="none" stroke="#fff" stroke-width="3.2" stroke-linejoin="round" stroke-linecap="round" d="M583.5 188.3L583 197L582.8 205.5L565.5 202.5L563.3 218.3L556.5 217.5L548.3 231.8L550.5 240L542.3 258L543 264L534.8 269.3L536.3 277.5L531 300L529 306L534 312L532 322L520 324L511 335L510 345L512 355L510.5 362L513.5 369L512.8 384L521.8 393.8L519.5 402L514.5 403.5L520.3 415.5L518 426L515 432L509.8 433.5L509 444L508.3 458.3L505.3 458.3M583.5 188.3L587 184L591 179.3L594 180.8L600 186.8L604.5 192L612 193.5L618 187.5L624 189.8L629.3 190.5L630 186L633.8 180L632.3 172.5L630.8 165L633 155.3L639 153L644.3 147.8L649.5 150.8L660 156L661 162L661 168M583.5 188.3L587 189L591 190.5L600 195.8L606 199L612 202.5L618.8 210L620.3 219L624 223.5L621.8 226.5L625.5 232.5L629.3 238.5L628.5 250.5L634.5 256.5L637 265M661 168L662 178L662 186L668 190L675 195L682 205L679 222L689 236L700 250L696 254L697 262L700 270L706 275L710 284L717 290L715 299L724 304L732 309L737 316L737 325L731 345L725 364L718 376L712.7 385M723.3 415.3L725.3 417.3L722 425.3L718.7 433.3L722.7 441.3L726 448L729.3 453.3L727.3 460L727.3 464.7M727.3 464.7L722 464.7L715.3 468L710 465.3L704.7 461.3L696.7 458.7L690 460L684 464.7M727.3 464.7L734 468.7L735.3 478.7L740.7 484L745.3 492L746 497.3L742 501.3L740.7 507.3L735.3 508L728.7 513.3M728.7 513.3L723.3 512L712.7 506.7L704.7 505.3L699.3 499.3L695.3 503.3L688.7 505.3L680.7 506L675.3 508.7L671.3 507.3L659.3 508.7L652.7 513.3L647.3 519M728.7 513.3L728 520L731.3 525.3L727.3 528L726 533.3L720 538L717 542L720 547L722 551L723 555L720 555L715 558L710 559L707 563L705 564L698 565L692 566M692 566L688 563L685 560L680 558L677 557M677 557L679 550L676 545L674 542L668 543L662 544L657 542L652 539M677 557L670 561L662 564L650 565L640 565L633 564M692 566L695 573L697 580L700 588L702 595L698 603L695 610L700 616L704 620L706 627L709 634L711 640L716 650L714 657L710 664L707 670L703 676L701 682L699 690L699 697M699 697L695 695L690 694L685 691L680 690L675 691L670 692L663 694L657 695L653 697L650 697L647 693L644 691L640 693L636 694M636 694L633 689L630 684L623 684L617 684L615 681L612 679L606 676L600 674L598 679L596 681L593 676L590 672L582 669L575 666L571 662L566 661M566 661L565 656L566 655L563 647L560 640L558 630L556 620L552 615L550 612L551 605L552 600L551 594L550.8 589M566 661L562 663L557 661L553 665L549 669L540 673L531 679L525 681L521 682L523 686L525 690L530 695L533 700L536 705L542 710L547 715L551 719L555 722M555 722L550 724L546 725L545 731L541 733L537 736L534 742L537 746L540 750L538 755L535 753L532 750L526 750L520 751L516 753L512 755L508 756L504 757L500 755L495 758L490 760L489 756L484 756L480 756M480 756L476 753L472 751L465 750L460 747L456 750L452 752L448 753L444 754M444 754L444 746L444 739L445 733L447 727L451 722L455 717L451 715L447.5 715L442 711.8L435.6 711.2L429 709.6L425.8 703.6L424 702.2M424 702.2L425.8 696.6L422 691.2L420.4 685.8M420.4 685.8L423.7 682.5L425.3 679L422.6 674L420.4 669.5M420.4 669.5L419.3 664L417.7 663L421.5 657.6L424 650L421.5 647L420.4 642.4L422.6 640L428 640L433 638L434 634L438 631L439 627L434 624.5L432 622L437 621L439 617.5L442 611L442 604M464.5 562.2L468 562.5L472.7 563.3L474.4 565.1L476.2 564.5M377 651L381.4 652L385.8 655.4L389 652.7L394.4 650L397.7 650.5L400.4 647.8L405.3 650L407.4 654.3L412.8 655.4L417.2 659.7L416 663L415.5 668L420.4 669.5M420.4 685.8L415.2 691.5L414.6 693.4L416.6 696.6L415 701.5M415 701.5L419 701.9L424 702.2M363.5 656.5L364 660.8L367.3 665.2L372.2 665.7L374.9 670.6L379.8 673.3L381.4 677L385.8 680.3L387.4 685.8L390.6 687.4L396.6 685.8L398.7 683.6L399.8 689L403 694.4L407.4 698.8L409 701.5L415 701.5M444 754L440 755L435 756L430 760L427 765L424 770L420 775L417 779L414 787L417 786L420 785L425 791L430 797M430 797L429 800L434 806L432 812L428 815L424 817L427 825L428 831L429 836L435 841L442 844L439 848L436 852M261.5 846L269 851L271 856L277 858L280 861L286 865L295 869L305 870L309 866L315 869L322 875L326 878L330 877L335 880L344 881L352 880M121 856L125 853L130 852L136 852L135 860L145 861L150 865L156 861L165 866L165 872L171 875L165 881L155 886L153 894L152 902L147 907L149 912L144 920L136 920L139 929L142 936L137 943L132 950L136 957L137 961L131 964L124 972L124 982M430 797L435 796L440 794L446 795L449 790L452 786L459 784L462 792L465 799L469 797L472 790L474 784L479 787L482 784L490 786L493 781L495 776M495 776L499 772L504 770L510 768L515 767L524 766L527 771L530 775L540 777L549 779M480 756L478 761L477 766L481 768L485 770L492 771L495 776M549 779L550 785L554 790L550 795L555 800L552 806M549 779L555 780L560 780L566 779L571 777L576 775L580 774L585 773L590 772L596 770M555 722L560 724L566 720L572 715L578 715L585 715L591 716L597 717L601 719L605 720M605 720L604 727L607 731L610 735M610 735L609 742L605 744L602 746L601 751L600 755L600 764L598 767L596 770M636 694L632 696L629 697L625 702L622 707L618 711L615 714L607 716L605 720M699 697L697 702L696 706L695 715M695 715L690 713L685 712L680 715L676 716L667 716L664 719L662 722L657 724L652 726L648 728L644 731L639 737L632 739L625 741L616 741L613 738L610 735M695 715L702 719L709 721M709 721L704 727L700 735L697 742L694 750L690 758L687 765L680 772L675 775L672 778.5M672 778.5L667 780L662 781L657 783.5L652 785.5L646.5 787.5M646.5 787.5L640 790.5L635 791.5L631 791.8L626 790.5L622 789.5L617 787L613 785L609 782L605.5 779.8L600 776M600 776L598 773L596 770M552 806L556 806.5L560 806L567 804L573 805L580 804.5L583 798L587.5 794.8L586 787.3L589 783.5L595 779L600 776M646.5 787.5L648.3 794L650.5 797L651.3 802.3L658 804.5L654.3 807.5L653.5 813.5M653.5 813.5L647.5 812.8L641.5 809.8L637 809.3L632.5 809L628 810L623.5 810.5L618 809L613 808.3L608 809L602.5 809.8L597 811L592 812L592.3 816L592.8 819.5L595 823L598 827L600 831.5L602.5 836L606 840.5L610 845L614.5 849.5L619 854L623 858L626.5 861.5L629.5 864.5L632.5 867.5L636 869L640 870.5L643 872L646 873.5L649.8 875L650.5 877M709 721L717 721L727 720L737 719L741 722L746 724L749 720L752 717L757 714L762 712L767 708L772 705L776 705L780 707M780 707L785 713L790 719L795 723L800 727L804 732L807 737L810 745L812 752L814 759L815 766L818 769L821 770M821 770L825 772L828 772L833 767L837 764L842 765L843.5 767M833 810L828 810L822 810L815 806L810 806L805 807L800 809L795 811L790 813L785 815L781 819L777 824L767 825L757 826L750 828L742 829L736 829L730 829L727 825L722.5 823M722.5 823L721.8 821.8L718 818L719 815L720.3 812L716.5 809.8L714 812L712 814.3L708 813.5L704.5 812L700 809.5L697 807.5L696.3 801.5L693.5 798.5L691 795.5L688 792.5L685 789.5L682 786.5L679 783.5L672 778.5M722.5 823L720.3 827.8L719.5 834.5L724 839L731.5 845L733 847.3L728.5 854L724.8 860L726.3 867.5L723.3 870.5M723.3 870.5L730 875L736 881L738.3 887L737.5 894.5M737.5 894.5L743 893L750 891L755 889L760 886L766 884L772 883L777 886L783 886.5L789 886.5L796.5 884.3L800.3 881.3L798 877.5L798 873.8L801.8 872M801.8 872L802.5 870L807 865.5L811 862L814.5 859.5L820.5 858.8L825 860.3L829 859L832.5 858M801.8 872L804.8 873.8L808.5 876.8L809.3 880.5L806.3 885L807 889.5L804.8 894L802.5 898.5M737.5 894.5L734.5 899L728.5 901.3L721 903.5L716.5 907.3L710.5 909.5L703 911.8M703 911.8L704.5 918.5L702 922.5L700 926L697 933.5L692.5 938L691.8 944L690 945.5M232 524L229 529L225 533L220 537L215 540L212 542L214 546L216 548L219 550L222 551L226 549L229 546L229.5 549L230 552L233 554L235 556L239 557"/><path fill="none" stroke="#323232" stroke-width="1.32" stroke-linejoin="round" stroke-linecap="round" d="M583.5 188.3L583 197L582.8 205.5L565.5 202.5L563.3 218.3L556.5 217.5L548.3 231.8L550.5 240L542.3 258L543 264L534.8 269.3L536.3 277.5L531 300L529 306L534 312L532 322L520 324L511 335L510 345L512 355L510.5 362L513.5 369L512.8 384L521.8 393.8L519.5 402L514.5 403.5L520.3 415.5L518 426L515 432L509.8 433.5L509 444L508.3 458.3L505.3 458.3M583.5 188.3L587 184L591 179.3L594 180.8L600 186.8L604.5 192L612 193.5L618 187.5L624 189.8L629.3 190.5L630 186L633.8 180L632.3 172.5L630.8 165L633 155.3L639 153L644.3 147.8L649.5 150.8L660 156L661 162L661 168M583.5 188.3L587 189L591 190.5L600 195.8L606 199L612 202.5L618.8 210L620.3 219L624 223.5L621.8 226.5L625.5 232.5L629.3 238.5L628.5 250.5L634.5 256.5L637 265M661 168L662 178L662 186L668 190L675 195L682 205L679 222L689 236L700 250L696 254L697 262L700 270L706 275L710 284L717 290L715 299L724 304L732 309L737 316L737 325L731 345L725 364L718 376L712.7 385M723.3 415.3L725.3 417.3L722 425.3L718.7 433.3L722.7 441.3L726 448L729.3 453.3L727.3 460L727.3 464.7M727.3 464.7L722 464.7L715.3 468L710 465.3L704.7 461.3L696.7 458.7L690 460L684 464.7M727.3 464.7L734 468.7L735.3 478.7L740.7 484L745.3 492L746 497.3L742 501.3L740.7 507.3L735.3 508L728.7 513.3M728.7 513.3L723.3 512L712.7 506.7L704.7 505.3L699.3 499.3L695.3 503.3L688.7 505.3L680.7 506L675.3 508.7L671.3 507.3L659.3 508.7L652.7 513.3L647.3 519M728.7 513.3L728 520L731.3 525.3L727.3 528L726 533.3L720 538L717 542L720 547L722 551L723 555L720 555L715 558L710 559L707 563L705 564L698 565L692 566M692 566L688 563L685 560L680 558L677 557M677 557L679 550L676 545L674 542L668 543L662 544L657 542L652 539M677 557L670 561L662 564L650 565L640 565L633 564M692 566L695 573L697 580L700 588L702 595L698 603L695 610L700 616L704 620L706 627L709 634L711 640L716 650L714 657L710 664L707 670L703 676L701 682L699 690L699 697M699 697L695 695L690 694L685 691L680 690L675 691L670 692L663 694L657 695L653 697L650 697L647 693L644 691L640 693L636 694M636 694L633 689L630 684L623 684L617 684L615 681L612 679L606 676L600 674L598 679L596 681L593 676L590 672L582 669L575 666L571 662L566 661M566 661L565 656L566 655L563 647L560 640L558 630L556 620L552 615L550 612L551 605L552 600L551 594L550.8 589M566 661L562 663L557 661L553 665L549 669L540 673L531 679L525 681L521 682L523 686L525 690L530 695L533 700L536 705L542 710L547 715L551 719L555 722M555 722L550 724L546 725L545 731L541 733L537 736L534 742L537 746L540 750L538 755L535 753L532 750L526 750L520 751L516 753L512 755L508 756L504 757L500 755L495 758L490 760L489 756L484 756L480 756M480 756L476 753L472 751L465 750L460 747L456 750L452 752L448 753L444 754M444 754L444 746L444 739L445 733L447 727L451 722L455 717L451 715L447.5 715L442 711.8L435.6 711.2L429 709.6L425.8 703.6L424 702.2M424 702.2L425.8 696.6L422 691.2L420.4 685.8M420.4 685.8L423.7 682.5L425.3 679L422.6 674L420.4 669.5M420.4 669.5L419.3 664L417.7 663L421.5 657.6L424 650L421.5 647L420.4 642.4L422.6 640L428 640L433 638L434 634L438 631L439 627L434 624.5L432 622L437 621L439 617.5L442 611L442 604M464.5 562.2L468 562.5L472.7 563.3L474.4 565.1L476.2 564.5M377 651L381.4 652L385.8 655.4L389 652.7L394.4 650L397.7 650.5L400.4 647.8L405.3 650L407.4 654.3L412.8 655.4L417.2 659.7L416 663L415.5 668L420.4 669.5M420.4 685.8L415.2 691.5L414.6 693.4L416.6 696.6L415 701.5M415 701.5L419 701.9L424 702.2M363.5 656.5L364 660.8L367.3 665.2L372.2 665.7L374.9 670.6L379.8 673.3L381.4 677L385.8 680.3L387.4 685.8L390.6 687.4L396.6 685.8L398.7 683.6L399.8 689L403 694.4L407.4 698.8L409 701.5L415 701.5M444 754L440 755L435 756L430 760L427 765L424 770L420 775L417 779L414 787L417 786L420 785L425 791L430 797M430 797L429 800L434 806L432 812L428 815L424 817L427 825L428 831L429 836L435 841L442 844L439 848L436 852M261.5 846L269 851L271 856L277 858L280 861L286 865L295 869L305 870L309 866L315 869L322 875L326 878L330 877L335 880L344 881L352 880M121 856L125 853L130 852L136 852L135 860L145 861L150 865L156 861L165 866L165 872L171 875L165 881L155 886L153 894L152 902L147 907L149 912L144 920L136 920L139 929L142 936L137 943L132 950L136 957L137 961L131 964L124 972L124 982M430 797L435 796L440 794L446 795L449 790L452 786L459 784L462 792L465 799L469 797L472 790L474 784L479 787L482 784L490 786L493 781L495 776M495 776L499 772L504 770L510 768L515 767L524 766L527 771L530 775L540 777L549 779M480 756L478 761L477 766L481 768L485 770L492 771L495 776M549 779L550 785L554 790L550 795L555 800L552 806M549 779L555 780L560 780L566 779L571 777L576 775L580 774L585 773L590 772L596 770M555 722L560 724L566 720L572 715L578 715L585 715L591 716L597 717L601 719L605 720M605 720L604 727L607 731L610 735M610 735L609 742L605 744L602 746L601 751L600 755L600 764L598 767L596 770M636 694L632 696L629 697L625 702L622 707L618 711L615 714L607 716L605 720M699 697L697 702L696 706L695 715M695 715L690 713L685 712L680 715L676 716L667 716L664 719L662 722L657 724L652 726L648 728L644 731L639 737L632 739L625 741L616 741L613 738L610 735M695 715L702 719L709 721M709 721L704 727L700 735L697 742L694 750L690 758L687 765L680 772L675 775L672 778.5M672 778.5L667 780L662 781L657 783.5L652 785.5L646.5 787.5M646.5 787.5L640 790.5L635 791.5L631 791.8L626 790.5L622 789.5L617 787L613 785L609 782L605.5 779.8L600 776M600 776L598 773L596 770M552 806L556 806.5L560 806L567 804L573 805L580 804.5L583 798L587.5 794.8L586 787.3L589 783.5L595 779L600 776M646.5 787.5L648.3 794L650.5 797L651.3 802.3L658 804.5L654.3 807.5L653.5 813.5M653.5 813.5L647.5 812.8L641.5 809.8L637 809.3L632.5 809L628 810L623.5 810.5L618 809L613 808.3L608 809L602.5 809.8L597 811L592 812L592.3 816L592.8 819.5L595 823L598 827L600 831.5L602.5 836L606 840.5L610 845L614.5 849.5L619 854L623 858L626.5 861.5L629.5 864.5L632.5 867.5L636 869L640 870.5L643 872L646 873.5L649.8 875L650.5 877M709 721L717 721L727 720L737 719L741 722L746 724L749 720L752 717L757 714L762 712L767 708L772 705L776 705L780 707M780 707L785 713L790 719L795 723L800 727L804 732L807 737L810 745L812 752L814 759L815 766L818 769L821 770M821 770L825 772L828 772L833 767L837 764L842 765L843.5 767M833 810L828 810L822 810L815 806L810 806L805 807L800 809L795 811L790 813L785 815L781 819L777 824L767 825L757 826L750 828L742 829L736 829L730 829L727 825L722.5 823M722.5 823L721.8 821.8L718 818L719 815L720.3 812L716.5 809.8L714 812L712 814.3L708 813.5L704.5 812L700 809.5L697 807.5L696.3 801.5L693.5 798.5L691 795.5L688 792.5L685 789.5L682 786.5L679 783.5L672 778.5M722.5 823L720.3 827.8L719.5 834.5L724 839L731.5 845L733 847.3L728.5 854L724.8 860L726.3 867.5L723.3 870.5M723.3 870.5L730 875L736 881L738.3 887L737.5 894.5M737.5 894.5L743 893L750 891L755 889L760 886L766 884L772 883L777 886L783 886.5L789 886.5L796.5 884.3L800.3 881.3L798 877.5L798 873.8L801.8 872M801.8 872L802.5 870L807 865.5L811 862L814.5 859.5L820.5 858.8L825 860.3L829 859L832.5 858M801.8 872L804.8 873.8L808.5 876.8L809.3 880.5L806.3 885L807 889.5L804.8 894L802.5 898.5M737.5 894.5L734.5 899L728.5 901.3L721 903.5L716.5 907.3L710.5 909.5L703 911.8M703 911.8L704.5 918.5L702 922.5L700 926L697 933.5L692.5 938L691.8 944L690 945.5M232 524L229 529L225 533L220 537L215 540L212 542L214 546L216 548L219 550L222 551L226 549L229 546L229.5 549L230 552L233 554L235 556L239 557"/><rect x="1165" y="120" width="31" height="937" fill="url(#fr)"/><rect x="1195.5" y="120" width="5" height="937" fill="#fff"/><g font-family="Liberation Sans, Arial, sans-serif" font-size="18" text-anchor="middle" fill="#fff" stroke="#fff" stroke-opacity="0.95" stroke-width="4.6" stroke-linejoin="round" filter="url(#hb)"><text x="680.8" y="350.4">FI</text><text x="557.8" y="449.4">SE</text><text x="696.8" y="452.4">EE</text><text x="712.8" y="496.4">LV</text><text x="689.8" y="536.4">LT</text><text x="484.8" y="539.4">DK</text><text x="207.8" y="592.4">IE</text><text x="414.8" y="635.4">NL</text><text x="491.8" y="662.4">DE</text><text x="636.8" y="637.4">PL</text><text x="394.8" y="682.4">BE</text><text x="438.8" y="697.4">LU</text><text x="576.8" y="702.4">CZ</text><text x="653.8" y="716.4">SK</text><text x="567.8" y="756.4">AT</text><text x="649.8" y="770.4">HU</text><text x="356.8" y="763.4">FR</text><text x="750.8" y="777.4">RO</text><text x="568.8" y="801.4">SI</text><text x="607.8" y="806.4">HR</text><text x="777.8" y="859.4">BG</text><text x="520.8" y="875.4">IT</text><text x="121.8" y="920.4">PT</text><text x="213.8" y="942.4">ES</text><text x="730.8" y="976.4">EL</text><text x="602.8" y="1056.4">MT</text><text x="978.8" y="1040.4">CY</text></g><g font-family="Liberation Sans, Arial, sans-serif" font-size="18" text-anchor="middle" fill="#1c1c1c" stroke="#1c1c1c" stroke-width="0.3" filter="url(#nop)"><text x="680.8" y="350.4">FI</text><text x="557.8" y="449.4">SE</text><text x="696.8" y="452.4">EE</text><text x="712.8" y="496.4">LV</text><text x="689.8" y="536.4">LT</text><text x="484.8" y="539.4">DK</text><text x="207.8" y="592.4">IE</text><text x="414.8" y="635.4">NL</text><text x="491.8" y="662.4">DE</text><text x="636.8" y="637.4">PL</text><text x="394.8" y="682.4">BE</text><text x="438.8" y="697.4">LU</text><text x="576.8" y="702.4">CZ</text><text x="653.8" y="716.4">SK</text><text x="567.8" y="756.4">AT</text><text x="649.8" y="770.4">HU</text><text x="356.8" y="763.4">FR</text><text x="750.8" y="777.4">RO</text><text x="568.8" y="801.4">SI</text><text x="607.8" y="806.4">HR</text><text x="777.8" y="859.4">BG</text><text x="520.8" y="875.4">IT</text><text x="121.8" y="920.4">PT</text><text x="213.8" y="942.4">ES</text><text x="730.8" y="976.4">EL</text><text x="602.8" y="1056.4">MT</text><text x="978.8" y="1040.4">CY</text></g></svg><div class="sw" style="top:294px;background:#a50f15"></div><div class="lt" style="top:294px">≥ 1 750</div><div class="sw" style="top:318px;background:#de2d26"></div><div class="lt" style="top:318px">1 600 – &lt; 1 750</div><div class="sw" style="top:342px;background:#fb6a4a"></div><div class="lt" style="top:342px">1 500 – &lt; 1 600</div><div class="sw" style="top:366px;background:#fc9272"></div><div class="lt" style="top:366px">1 400 – &lt; 1 500</div><div class="sw" style="top:390px;background:#fcbba1"></div><div class="lt" style="top:390px">1 300 – &lt; 1 400</div><div class="sw" style="top:414px;background:#fee5d9"></div><div class="lt" style="top:414px">&lt; 1 300</div><div class="sw" style="top:451px;height:24px;background:#b0b0b0"></div><div class="lt" style="top:452px;left:53px;color:#666">Data not available</div>
<div class="logo">eurostat</div>
<div class="flag"><svg width="30" height="20" viewBox="0 0 30 20"><g fill="#ffd617"><circle cx="15.0" cy="3.8" r="0.9"/><circle cx="18.1" cy="4.6" r="0.9"/><circle cx="20.4" cy="6.9" r="0.9"/><circle cx="21.2" cy="10.0" r="0.9"/><circle cx="20.4" cy="13.1" r="0.9"/><circle cx="18.1" cy="15.4" r="0.9"/><circle cx="15.0" cy="16.2" r="0.9"/><circle cx="11.9" cy="15.4" r="0.9"/><circle cx="9.6" cy="13.1" r="0.9"/><circle cx="8.8" cy="10.0" r="0.9"/><circle cx="9.6" cy="6.9" r="0.9"/><circle cx="11.9" cy="4.6" r="0.9"/></g></svg></div>
<div class="cr" style="top:1095px">Administrative boundaries: © EuroGeographics © OpenStreetMap</div>
<div class="cr" style="top:1115.5px">Cartography: Eurostat – IMAGE, 03/2026</div>
</body></html>
